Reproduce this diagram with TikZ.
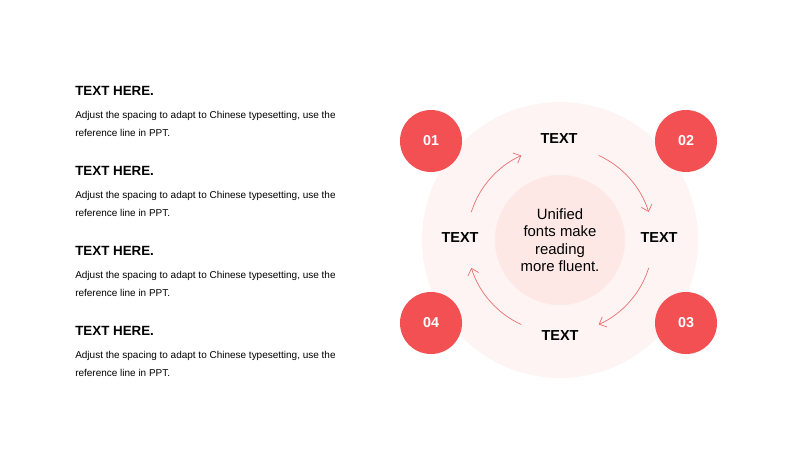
\documentclass[tikz,border=0pt]{standalone}
\usepackage{fontspec}
\setmainfont{Liberation Sans}
\usetikzlibrary{arrows.meta,positioning}

\definecolor{rojo}{HTML}{F25052}
\definecolor{rosa}{HTML}{FEF4F4}
\definecolor{rosados}{HTML}{FDE8E6}
\definecolor{flechac}{HTML}{EC6F6F}

\begin{document}
\begin{tikzpicture}[
        x=0.025cm, y=0.025cm,
        titulo/.style={font=\fontsize{9.5}{11}\selectfont\bfseries, inner sep=0pt, anchor=west},
        cuerpo/.style={font=\fontsize{7.1}{12.2}\selectfont, inner sep=0pt, align=left},
        numero/.style={circle, fill=rojo, minimum size=1.55cm, inner sep=0pt, text=white, font=\fontsize{10.2}{12}\selectfont\bfseries},
        etiqueta/.style={font=\fontsize{10.3}{12}\selectfont\bfseries, inner sep=0pt},
        flecha/.style={-{Straight Barb[length=1.5mm, width=2.8mm]}, draw=flechac, line width=0.5pt}
    ]
        \useasboundingbox (0,0) rectangle (800,450);

        % columna izquierda
        \node[titulo] (t1) at (75,359) {TEXT HERE.};
        \node[cuerpo, below right=11pt and 0pt of t1.south west] (c1) {Adjust the spacing to adapt to Chinese typesetting, use the\\reference line in PPT.};
        \node[titulo] (t2) at (75,279) {TEXT HERE.};
        \node[cuerpo, below right=11pt and 0pt of t2.south west] (c2) {Adjust the spacing to adapt to Chinese typesetting, use the\\reference line in PPT.};
        \node[titulo] (t3) at (75,199) {TEXT HERE.};
        \node[cuerpo, below right=11pt and 0pt of t3.south west] (c3) {Adjust the spacing to adapt to Chinese typesetting, use the\\reference line in PPT.};
        \node[titulo] (t4) at (75,119) {TEXT HERE.};
        \node[cuerpo, below right=11pt and 0pt of t4.south west] (c4) {Adjust the spacing to adapt to Chinese typesetting, use the\\reference line in PPT.};

        % ciclo
        \node[circle, fill=rosa, minimum size=6.9cm] (fondo) at (560,210) {};
        \node[circle, fill=rosados, minimum size=3.25cm, align=center,
              font=\fontsize{10.6}{12.4}\selectfont] (centro) at (fondo) {Unified\\fonts make\\reading\\more fluent.};

        \node[numero] (n1) at (431,309) {01};
        \node[numero] (n2) at (686,309) {02};
        \node[numero] (n3) at (686,127) {03};
        \node[numero] (n4) at (431,127) {04};

        \node[etiqueta] (arriba) at (559,311) {TEXT};
        \node[etiqueta] (derecha) at (659,212) {TEXT};
        \node[etiqueta] (abajo) at (560,114) {TEXT};
        \node[etiqueta] (izquierda) at (460,212) {TEXT};

        \path (centro) ++(162.5:93) coordinate (s1);
        \path (centro) ++(65.4:93) coordinate (s2);
        \path (centro) ++(-17.5:93) coordinate (s3);
        \path (centro) ++(-114.6:93) coordinate (s4);

        \draw[flecha] (s1) arc[start angle=162.5, end angle=114.6, radius=93];
        \draw[flecha] (s2) arc[start angle=65.4, end angle=17.6, radius=93];
        \draw[flecha] (s3) arc[start angle=-17.5, end angle=-65.4, radius=93];
        \draw[flecha] (s4) arc[start angle=-114.6, end angle=-162.5, radius=93];
    \end{tikzpicture}
\end{document}
